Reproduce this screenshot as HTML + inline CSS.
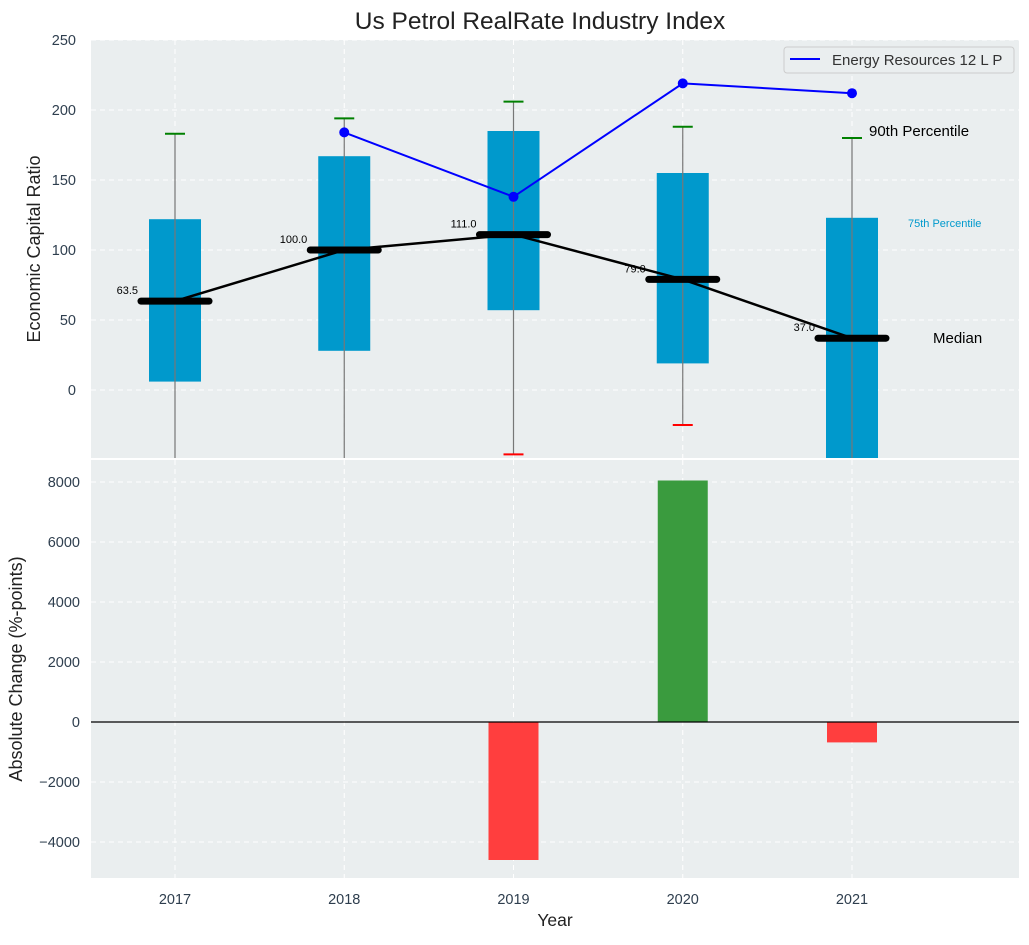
<!DOCTYPE html>
<html><head><meta charset="utf-8"><style>
body{margin:0;background:#fff;font-family:"Liberation Sans",sans-serif}
svg text{font-family:"Liberation Sans",sans-serif}
</style></head><body>
<svg id="c" width="1029" height="940" xmlns="http://www.w3.org/2000/svg"></svg>
<script>
const years=[2017,2018,2019,2020,2021];
const q25=[6,28,57,19,-60];
const q75=[122,167,185,155,123];
const p90=[183,194,206,188,180];
const p10=[-60,-60,-46,-25,-60];
const medians=[63.5,100,111,79,37];
const energy=[null,184,138,219,212];
const changes=[0,0,-4600,8050,-680];
const topTicks=[0,50,100,150,200,250];
const botTicks=[-4000,-2000,0,2000,4000,6000,8000];
const NS="http://www.w3.org/2000/svg";
const svg=document.getElementById('c');
function el(t,a,name,p){const e=document.createElementNS(NS,t);for(const k in a)e.setAttribute(k,a[k]);


(p||svg).appendChild(e);return e;}
const L=91,R=1019,T1=40,B1=458,T2=460,B2=878;
const X=y=>175+(y-2017)*169.25;
const Y1=v=>390-v*1.4;
const Y2=v=>722-v*0.03;
el('rect',{x:L,y:T1,width:R-L,height:B1-T1,fill:'#eaeeef'},'top-panel');
el('rect',{x:L,y:T2,width:R-L,height:B2-T2,fill:'#eaeeef'},'bottom-panel');
const g1=el('g',{'clip-path':'url(#cp1)'},'top-plot');
const defs=el('defs',{},'defs');
const cp=el('clipPath',{id:'cp1'},'clip',defs);el('rect',{x:L,y:T1,width:R-L,height:B1-T1},'clip-rect',cp);
topTicks.forEach(v=>{el('line',{x1:L,x2:R,y1:Y1(v),y2:Y1(v),stroke:'#fff','stroke-dasharray':'5,4','stroke-width':1},'grid-h',g1);
const t=el('text',{x:76,y:Y1(v)+5,'text-anchor':'end','font-size':14.5,fill:'#2e3e4e'},'y-tick-label');t.textContent=v;});
botTicks.forEach(v=>{el('line',{x1:L,x2:R,y1:Y2(v),y2:Y2(v),stroke:'#fff','stroke-dasharray':'5,4'},'grid-h-bottom');
const t=el('text',{x:80,y:Y2(v)+5,'text-anchor':'end','font-size':14.5,fill:'#2e3e4e'},'y-tick-label-bottom');t.textContent=(v<0?'\u2212'+(-v):v);});
years.forEach((yr,i)=>{const x=X(yr);
el('line',{x1:x,x2:x,y1:T1,y2:B1,stroke:'#fff','stroke-dasharray':'5,4'},'grid-v',g1);
el('line',{x1:x,x2:x,y1:T2,y2:B2,stroke:'#fff','stroke-dasharray':'5,4'},'grid-v-bottom');
const t=el('text',{x:x,y:904,'text-anchor':'middle','font-size':14.5,fill:'#2e3e4e'},'x-tick-label');t.textContent=yr;});
years.forEach((yr,i)=>{const x=X(yr);
el('rect',{x:x-26,y:Y1(q75[i]),width:52,height:Y1(q25[i])-Y1(q75[i]),fill:'#0099cc'},'box-'+yr,g1);
el('line',{x1:x,x2:x,y1:Y1(p90[i]),y2:Y1(p10[i]),stroke:'#777',"stroke-width":1.2},'whisker-'+yr,g1);
el('line',{x1:x-10,x2:x+10,y1:Y1(p90[i]),y2:Y1(p90[i]),stroke:'green','stroke-width':2},'cap-90-'+yr,g1);
if(p10[i]>-48) el('line',{x1:x-10,x2:x+10,y1:Y1(p10[i]),y2:Y1(p10[i]),stroke:'red','stroke-width':2},'cap-10-'+yr,g1);
});
el('polyline',{points:years.map((y,i)=>X(y)+','+Y1(medians[i])).join(' '),fill:'none',stroke:'#000','stroke-width':2.5},'median-line',g1);
years.forEach((yr,i)=>{const x=X(yr);
el('line',{x1:x-34,x2:x+34,y1:Y1(medians[i]),y2:Y1(medians[i]),stroke:'#000','stroke-width':7,'stroke-linecap':'round'},'median-'+yr,g1);
const t=el('text',{x:x-37,y:Y1(medians[i])-7,'text-anchor':'end','font-size':11,fill:'#000'},'median-label');t.textContent=medians[i].toFixed(1);});
const pts=years.map((y,i)=>energy[i]==null?null:[X(y),Y1(energy[i])]).filter(p=>p);
el('polyline',{points:pts.map(p=>p.join(',')).join(' '),fill:'none',stroke:'blue','stroke-width':2},'energy-line',g1);
pts.forEach(p=>el('circle',{cx:p[0],cy:p[1],r:5,fill:'blue'},'energy-point',g1));
let t=el('text',{x:869,y:136,'font-size':15,fill:'#000'},'label-90th');t.textContent='90th Percentile';
t=el('text',{x:908,y:227,'font-size':11,fill:'#0099cc'},'label-75th');t.textContent='75th Percentile';
t=el('text',{x:933,y:343,'font-size':15,fill:'#000'},'label-median');t.textContent='Median';
el('rect',{x:784,y:47,width:230,height:26,rx:3,fill:'#eaeeef',stroke:'#ccc'},'legend',null);
el('line',{x1:790,x2:820,y1:59,y2:59,stroke:'blue','stroke-width':2},'legend-line');
t=el('text',{x:832,y:65,'font-size':15,fill:'#333'},'legend-entry');t.textContent='Energy Resources 12 L P';
years.forEach((yr,i)=>{if(!changes[i])return;const x=X(yr);
el('rect',{x:x-25,y:Math.min(Y2(0),Y2(changes[i])),width:50,height:Math.abs(Y2(changes[i])-Y2(0)),fill:changes[i]>0?'#3a9b3e':'#ff3e3e'},'change-bar-'+yr);});
el('line',{x1:L,x2:R,y1:Y2(0),y2:Y2(0),stroke:'#000','stroke-width':1.2},'zero-line');
t=el('text',{x:540,y:29,'text-anchor':'middle','font-size':24.5,fill:'#222'},'chart-title');t.textContent='Us Petrol RealRate Industry Index';
t=el('text',{x:555,y:926,'text-anchor':'middle','font-size':17.5,fill:'#222'},'x-axis-title');t.textContent='Year';
t=el('text',{x:40,y:249,'text-anchor':'middle','font-size':18,fill:'#222',transform:'rotate(-90 40 249)'},'y-axis-title-top');t.textContent='Economic Capital Ratio';
t=el('text',{x:22,y:669,'text-anchor':'middle','font-size':18,fill:'#222',transform:'rotate(-90 22 669)'},'y-axis-title-bottom');t.textContent='Absolute Change (%-points)';
</script>
</body></html>
